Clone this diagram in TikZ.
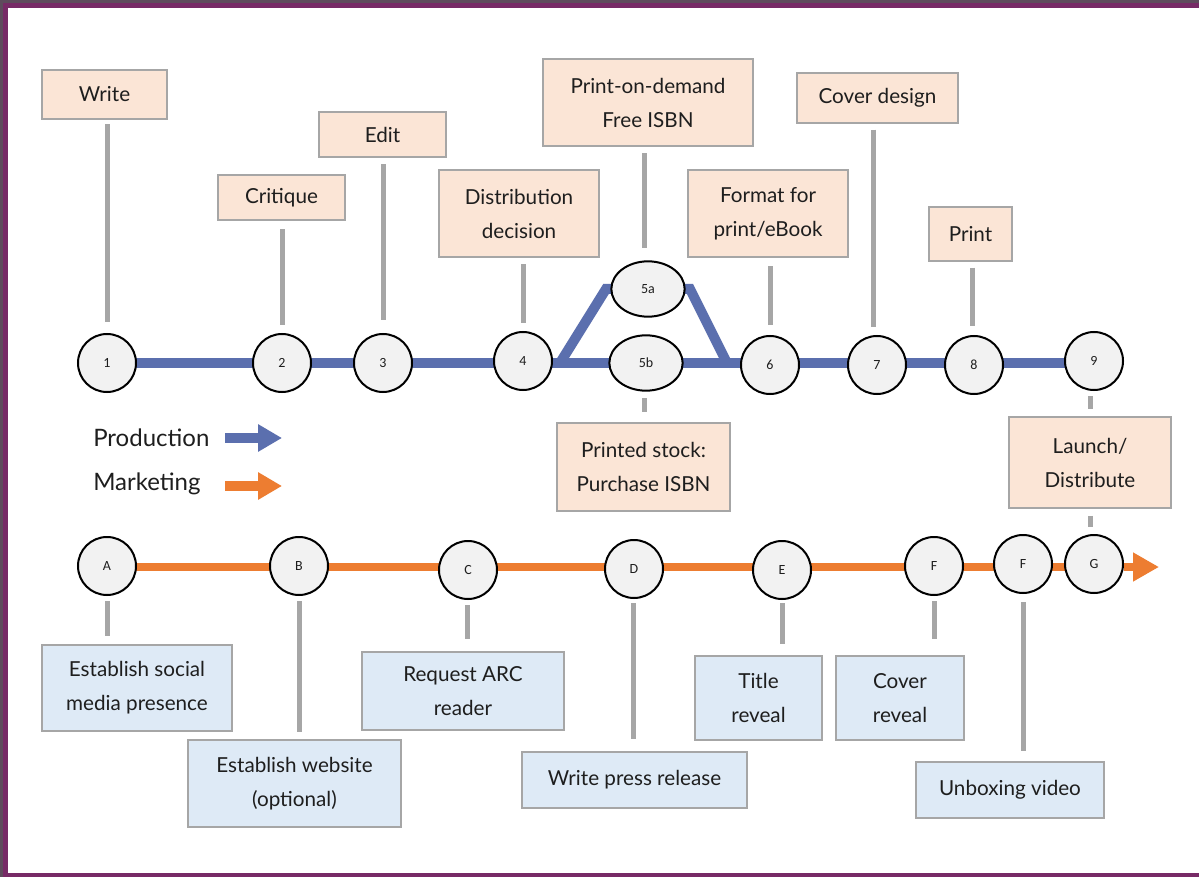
\documentclass[tikz,border=0pt]{standalone}
\usepackage{fontspec}
\setmainfont{Lato}
\newfontfamily\numfont{Carlito}
\usetikzlibrary{arrows.meta,shapes.geometric}
\pgfdeclarelayer{back}
\pgfdeclarelayer{bg}
\pgfsetlayers{back,bg,main}
\definecolor{peach}{HTML}{FBE5D6}
\definecolor{lblue}{HTML}{DEEAF6}
\definecolor{boxgray}{HTML}{A6A6A6}
\definecolor{stemgray}{HTML}{A6A6A6}
\definecolor{cfill}{HTML}{F2F2F2}
\definecolor{prodblue}{HTML}{5B6FAE}
\definecolor{mkorange}{HTML}{ED7D31}
\definecolor{frame}{HTML}{772A66}
\definecolor{outer}{HTML}{5E4B5C}
\definecolor{txt}{HTML}{1E1E1E}
\tikzset{
  boxbase/.style={draw=boxgray, line width=1.8pt, align=center, inner sep=0pt, text=txt,
    font=\fontsize{15.5}{25.5}\selectfont},
  pbox/.style={boxbase, fill=peach},
  mbox/.style={boxbase, fill=lblue},
  circ/.style={circle, draw=black, line width=1.5pt, fill=cfill, minimum size=43.5pt,
    inner sep=0pt, font=\numfont\fontsize{10.5}{12}\selectfont, text=txt},
  ell/.style={ellipse, draw=black, line width=1.5pt, fill=cfill, minimum width=55pt,
    minimum height=41.5pt, inner sep=0pt, font=\numfont\fontsize{10.5}{12}\selectfont, text=txt},
  stem/.style={draw=stemgray, line width=3.75pt},
  prodline/.style={draw=prodblue, line width=7.5pt},
  mkline/.style={draw=mkorange, line width=6pt},
  legendtext/.style={anchor=west, inner sep=0pt, text=txt, font=\fontsize{18}{20}\selectfont}
}
\begin{document}
\begin{tikzpicture}[x=0.75pt,y=-0.75pt]
\useasboundingbox (0,0) rectangle (1199,877);
\begin{pgfonlayer}{back}
\fill[outer] (0,0) rectangle (1199,877);
\fill[frame] (3,3) rectangle (1199,877);
\fill[white] (8,8) rectangle (1199,873);
\end{pgfonlayer}

% production circles
\node[circ] (c1) at (107,363) {1};
\node[circ] (c2) at (282,363) {2};
\node[circ] (c3) at (383,363) {3};
\node[circ] (c4) at (523,361) {4};
\node[ell] (c5a) at (648,289) {5a};
\node[ell] (c5b) at (646,363) {5b};
\node[circ] (c6) at (770,365) {6};
\node[circ] (c7) at (877,365) {7};
\node[circ] (c8) at (974,365) {8};
\node[circ] (c9) at (1094,361) {9};
\coordinate (jl) at (560,363);
\coordinate (tl) at (606,289);
\coordinate (tr) at (690,289);
\coordinate (jr) at (727,363);

% marketing circles
\node[circ] (mA) at (107,566) {A};
\node[circ] (mB) at (299,566) {B};
\node[circ] (mC) at (468,570) {C};
\node[circ] (mD) at (634,569) {D};
\node[circ] (mE) at (782,570) {E};
\node[circ] (mF) at (934,566) {F};
\node[circ] (mF2) at (1023,564) {F};
\node[circ] (mG) at (1094,564) {G};
\coordinate (mend) at (1159,567);

% production boxes
\node[pbox, minimum width=93.75pt, minimum height=36.75pt] (bwrite) at (104.5,94.5) {Write};
\node[pbox, minimum width=95.25pt, minimum height=33.75pt] (bcrit) at (281.5,197.5) {Critique};
\node[pbox, minimum width=95.25pt, minimum height=33.75pt] (bedit) at (382.5,134.5) {Edit};
\node[pbox, minimum width=120pt, minimum height=65.25pt] (bdist) at (519,213.5) {Distribution\\decision};
\node[pbox, minimum width=157.5pt, minimum height=65.25pt] (bpod) at (648,102.5) {Print-on-demand\\Free ISBN};
\node[pbox, minimum width=120pt, minimum height=65.25pt] (bfmt) at (768,213.5) {Format for\\print/eBook};
\node[pbox, minimum width=120.75pt, minimum height=37.5pt] (bcov) at (877.5,98) {Cover design};
\node[pbox, minimum width=62.25pt, minimum height=40.5pt] (bprint) at (970.5,234) {Print};
\node[pbox, minimum width=129.75pt, minimum height=66pt] (bstock) at (643.5,467) {Printed stock:\\Purchase ISBN};
\node[pbox, minimum width=121.5pt, minimum height=68.25pt] (blaunch) at (1090,462.5) {Launch/\\Distribute};

% marketing boxes
\node[mbox, minimum width=142.5pt, minimum height=64.5pt] (bsoc) at (137,688) {Establish social\\media presence};
\node[mbox, minimum width=159.75pt, minimum height=65.25pt] (bweb) at (294.5,783.5) {Establish website\\(optional)};
\node[mbox, minimum width=151.5pt, minimum height=58.5pt] (barc) at (463,691) {Request ARC\\reader};
\node[mbox, minimum width=168.75pt, minimum height=42pt] (bpress) at (634.5,780) {Write press release};
\node[mbox, minimum width=95.25pt, minimum height=63pt] (btitle) at (758.5,698) {Title\\reveal};
\node[mbox, minimum width=96pt, minimum height=63pt] (bcrev) at (900,698) {Cover\\reveal};
\node[mbox, minimum width=141pt, minimum height=42pt] (bunbox) at (1010,790) {Unboxing video};

\begin{pgfonlayer}{bg}
  \draw[prodline] (c1.center) -- (c2.center) -- (c3.center) -- (c4.center |- jl) -- (jl) -- (c5b.center) -- (jr) -- (c6.center |- jr) -- (c7.center |- jr) -- (c8.center |- jr) -- (c9.center |- jr);
  \draw[prodline] (jl) -- (tl) -- (c5a.center) -- (tr) -- (jr);
  \draw[mkline] (mA.center |- mend) -- (mG.center |- mend);
\end{pgfonlayer}
\draw[mkline, -{Triangle[length=19.5pt,width=20.5pt]}] (mG.east |- mend) -- (mend);

% production stems
\draw[stem, shorten <=3pt, shorten >=8pt] (c1 |- bwrite.south) -- (c1.north);
\draw[stem, shorten <=6pt, shorten >=6pt] (c2 |- bcrit.south) -- (c2.north);
\draw[stem, shorten <=4.5pt, shorten >=9.5pt] (c3 |- bedit.south) -- (c3.north);
\draw[stem, shorten <=4.5pt, shorten >=6pt] (c4 |- bdist.south) -- (c4.north);
\draw[stem, shorten <=4.5pt, shorten >=9pt] ([xshift=-3pt]c5a |- bpod.south) -- ([xshift=-3pt]c5a.north);
\draw[stem, shorten <=6pt, shorten >=7.5pt] (c6 |- bfmt.south) -- (c6.north);
\draw[stem, shorten <=4pt, shorten >=6pt] ([xshift=-3pt]c7 |- bcov.south) -- ([xshift=-3pt]c7.north);
\draw[stem, shorten <=4pt, shorten >=7pt] ([xshift=-1.5pt]c8 |- bprint.south) -- ([xshift=-1.5pt]c8.north);
\draw[stem, shorten <=5pt, shorten >=7.5pt] ([xshift=-1.5pt]c5b.south) -- ([xshift=-1.5pt]c5b.south |- bstock.north);
\draw[stem, shorten <=4pt, shorten >=5pt] ([xshift=-3pt]c9.south) -- ([xshift=-3pt]c9.south |- blaunch.north);
\draw[stem, shorten <=5pt, shorten >=5pt] ([xshift=-3pt]mG.north |- blaunch.south) -- ([xshift=-3pt]mG.north);

% marketing stems
\draw[stem, shorten <=4pt, shorten >=6pt] (mA.south) -- (mA.south |- bsoc.north);
\draw[stem, shorten <=4pt, shorten >=5pt] (mB.south) -- (mB.south |- bweb.north);
\draw[stem, shorten <=4pt, shorten >=9pt] ([xshift=-0.75pt]mC.south) -- ([xshift=-0.75pt]mC.south |- barc.north);
\draw[stem, shorten <=3pt, shorten >=9pt] ([xshift=-0.75pt]mD.south) -- ([xshift=-0.75pt]mD.south |- bpress.north);
\draw[stem, shorten <=2.5pt, shorten >=8pt] (mE.south) -- (mE.south |- btitle.north);
\draw[stem, shorten <=4pt, shorten >=12pt] (mF.south) -- (mF.south |- bcrev.north);
\draw[stem, shorten <=6pt, shorten >=7.5pt] (mF2.south) -- (mF2.south |- bunbox.north);

% legend
\node[legendtext] (lprod) at (93,438) {Production};
\node[legendtext] (lmark) at (93,484) {Marketing};
\coordinate (lpa) at (225,438);
\coordinate (lpb) at (282,438);
\coordinate (lma) at (225,486);
\coordinate (lmb) at (282,486);
\draw[prodline, -{Triangle[length=18pt,width=19.5pt]}] (lpa) -- (lpb);
\draw[mkline, line width=7.5pt, -{Triangle[length=18pt,width=19.5pt]}] (lma) -- (lmb);
\end{tikzpicture}
\end{document}
